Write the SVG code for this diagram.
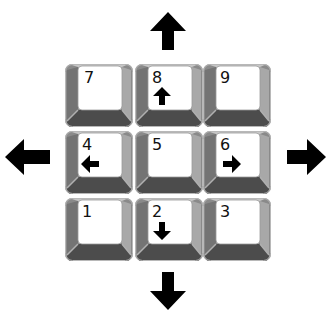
<svg xmlns="http://www.w3.org/2000/svg" xmlns:xlink="http://www.w3.org/1999/xlink" width="330" height="321" viewBox="0 0 330 321">
<style>
.num{font-family:"DejaVu Sans","Liberation Sans",sans-serif;font-size:16px;fill:#111}
.arr{fill:#000}
</style>
<defs>
<g id="keyshape">
<rect x="0" y="0" width="68" height="63" rx="7" fill="#8a8a8a"/>
<polygon points="2,6 13,3 13,46 2,57" fill="#747474"/>
<polygon points="66,6 57,3 57,46 66,57" fill="#a8a8a8"/>
<polygon points="5,0.5 63,0.5 57,3 13,3" fill="#c6c6c6"/>
<path d="M13,46 L57,46 L66,57 L66,58 Q66,63 61,63 L7,63 Q2,63 2,58 L2,57 Z" fill="#4c4c4c"/>
<path d="M13,46 L2,57 M57,46 L66,57" stroke="#b0b0b0" stroke-width="1.5" fill="none"/>
<rect x="13" y="2" width="44" height="44" rx="4" fill="#fff" stroke="#9a9a9a" stroke-width="0.8"/>
<rect x="0.5" y="0.5" width="67" height="62" rx="7" fill="none" stroke="#b8b8b8" stroke-width="1"/>
</g>
</defs>
<g id="key7" transform="translate(65,64)"><use xlink:href="#keyshape"/><text class="num" x="19" y="19">7</text></g>
<g id="key8" transform="translate(135,64)"><use xlink:href="#keyshape"/><text class="num" x="17" y="19">8</text><polygon class="arr" points="27,23 36,32 30,32 30,41 24,41 24,32 18,32"/></g>
<g id="key9" transform="translate(203,64)"><use xlink:href="#keyshape"/><text class="num" x="17" y="19">9</text></g>
<g id="key4" transform="translate(65,131)"><use xlink:href="#keyshape"/><text class="num" x="17" y="19">4</text><polygon class="arr" points="16,33 25,24 25,30 34,30 34,36 25,36 25,42"/></g>
<g id="key5" transform="translate(135,131)"><use xlink:href="#keyshape"/><text class="num" x="17" y="19">5</text></g>
<g id="key6" transform="translate(203,131)"><use xlink:href="#keyshape"/><text class="num" x="17" y="19">6</text><polygon class="arr" points="38,33 29,24 29,30 20,30 20,36 29,36 29,42"/></g>
<g id="key1" transform="translate(65,198)"><use xlink:href="#keyshape"/><text class="num" x="17" y="19">1</text></g>
<g id="key2" transform="translate(135,198)"><use xlink:href="#keyshape"/><text class="num" x="17" y="19">2</text><polygon class="arr" points="27,42 36,33 30,33 30,24 24,24 24,33 18,33"/></g>
<g id="key3" transform="translate(203,198)"><use xlink:href="#keyshape"/><text class="num" x="17" y="19">3</text></g>
<g id="connectors">
<polygon class="arr" points="168,12 186,31 174,31 174,50 162,50 162,31 150,31"/>
<polygon class="arr" points="168,310 186,291 174,291 174,272 162,272 162,291 150,291"/>
<polygon class="arr" points="5,157 24,139 24,150 50,150 50,164 24,164 24,175"/>
<polygon class="arr" points="326,157 307,139 307,150 287,150 287,164 307,164 307,175"/>
</g>
</svg>
